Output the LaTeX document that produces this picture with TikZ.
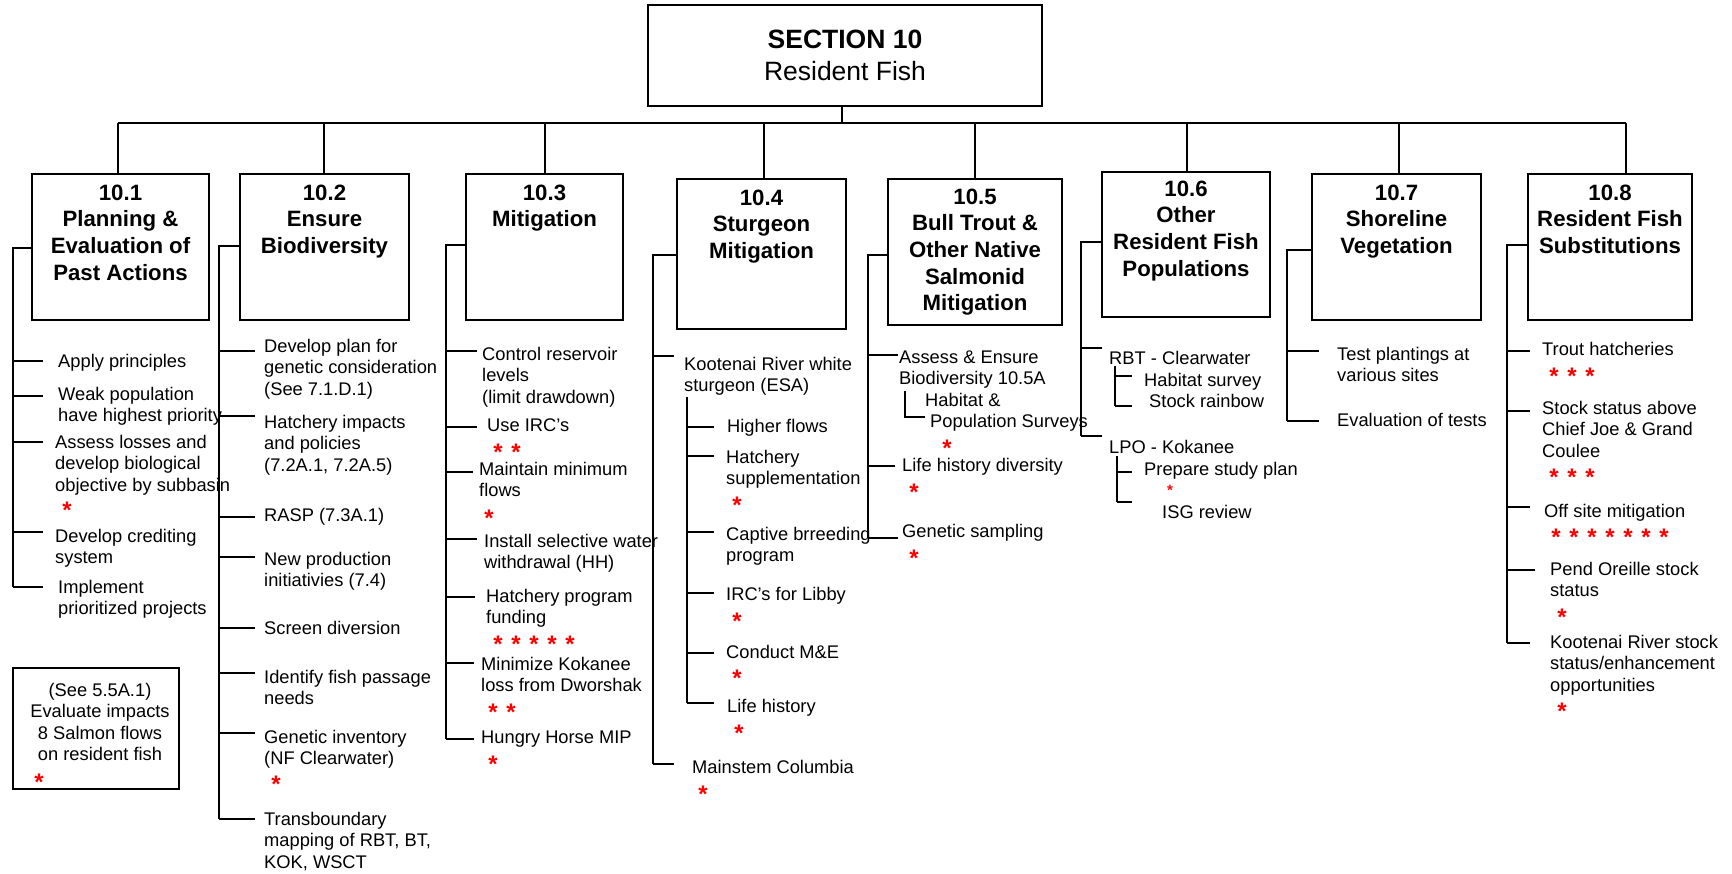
\documentclass[tikz,border=0pt]{standalone}
\usepackage{fontspec}
\setmainfont{Liberation Sans}
\tikzset{
  box/.style={draw=black, line width=1.3pt, inner sep=0pt, outer sep=0pt},
  ttl/.style={anchor=north, inner sep=0pt, align=center, font=\fontsize{22.2}{26.7}\selectfont\bfseries},
  item/.style={anchor=north west, inner sep=0pt, align=left, font=\fontsize{18.3}{21.5}\selectfont},
  redstar/.style={anchor=base, inner sep=0pt, text=red, font=\fontsize{24}{24}\selectfont\bfseries, yshift=-13.8pt},
  smallstar/.style={anchor=base, inner sep=0pt, text=red, font=\fontsize{15}{15}\selectfont\bfseries, yshift=-8.6pt},
  link/.style={draw=black, line width=1.3pt}
}
% item text block: name, left x, top y, text
\newcommand\itm[4]{\node[item] (#1) at (#2,#3) {\strut #4};}
% a row of red stars: name, first x, centre y, count
\newcommand\stars[4]{\foreach \k in {1,...,#4}{\node[redstar] (#1-\k) at ({#2+18*(\k-1)},#3) {*};}}
% short branch from a trunk: name, end point, trunk coordinate
\newcommand\tick[3]{\coordinate (#1) at (#2); \draw[link] (#3 |- #1) -- (#1);}
\begin{document}
\begin{tikzpicture}[x=1pt,y=-1pt]
\useasboundingbox (0,0) rectangle (1732,874);

% ---------- root ----------
\node[box, minimum width=394pt, minimum height=101pt] (top) at (845,55.5) {};
\node[anchor=north, inner sep=0pt, align=center, font=\fontsize{26.5}{32}\selectfont] (toptxt) at (845,26.1) {\strut\textbf{SECTION 10}\\Resident Fish};

% ---------- section boxes ----------
\node[box, minimum width=177pt, minimum height=146pt] (b1) at (120.5,247) {};
\node[ttl] (t1) at ([yshift=-7.3pt]b1.north) {\strut 10.1\\Planning \&\\Evaluation of\\Past Actions};
\node[box, minimum width=169pt, minimum height=146pt] (b2) at (324.5,247) {};
\node[ttl] (t2) at ([yshift=-7.3pt]b2.north) {\strut 10.2\\Ensure\\Biodiversity};
\node[box, minimum width=157pt, minimum height=146pt] (b3) at (544.5,247) {};
\node[ttl] (t3) at ([yshift=-7.3pt]b3.north) {\strut 10.3\\Mitigation};
\node[box, minimum width=169pt, minimum height=150pt] (b4) at (761.5,254) {};
\node[ttl] (t4) at ([yshift=-7.3pt]b4.north) {\strut 10.4\\Sturgeon\\Mitigation};
\node[box, minimum width=174pt, minimum height=146pt] (b5) at (975,252) {};
\node[ttl] (t5) at ([yshift=-6.3pt]b5.north) {\strut 10.5\\Bull Trout \&\\Other Native\\Salmonid\\Mitigation};
\node[box, minimum width=168pt, minimum height=145pt] (b6) at (1186,244.5) {};
\node[ttl] (t6) at ([yshift=-5.3pt]b6.north) {\strut 10.6\\Other\\Resident Fish\\Populations};
\node[box, minimum width=169pt, minimum height=146pt] (b7) at (1396.5,247) {};
\node[ttl] (t7) at ([yshift=-7.3pt]b7.north) {\strut 10.7\\Shoreline\\Vegetation};
\node[box, minimum width=164pt, minimum height=146pt] (b8) at (1610,247) {};
\node[ttl] (t8) at ([yshift=-7.3pt]b8.north) {\strut 10.8\\Resident Fish\\Substitutions};

% ---------- bus ----------
\coordinate (d0) at (842,123);
\coordinate (d1) at (118,123);
\coordinate (d2) at (324,123);
\coordinate (d3) at (545,123);
\coordinate (d4) at (764,123);
\coordinate (d5) at (975,123);
\coordinate (d6) at (1187,123);
\coordinate (d7) at (1399,123);
\coordinate (d8) at (1626,123);
\draw[link] (d0 |- top.south) -- (d0);
\draw[link] (d1) -- (d8);
\foreach \i in {1,...,8} {\draw[link] (d\i) -- (d\i |- b\i.north);}

% ---------- 10.1 ----------
\coordinate (k1) at (13,248);
\tick{e11}{43,361}{k1}
\tick{e12}{43,396}{k1}
\tick{e13}{43,442}{k1}
\tick{e14}{43,532}{k1}
\tick{e15}{43,587}{k1}
\draw[link] (b1.west |- k1) -- (k1) -- (k1 |- e15);
\itm{i11}{58}{352}{Apply principles}
\itm{i12}{58}{385}{Weak population\\have highest priority}
\itm{i13}{55}{433}{Assess losses and\\develop biological\\objective by subbasin}
\stars{s13}{67}{505}{1}
\itm{i14}{55}{527}{Develop crediting\\system}
\itm{i15}{58}{578}{Implement\\prioritized projects}

% side note
\node[box, minimum width=166pt, minimum height=121pt] (lb) at (96,728.5) {};
\node[item, anchor=north, align=center] (lt) at (100,681) {\strut (See 5.5A.1)\\Evaluate impacts\\8 Salmon flows\\on resident fish};
\stars{slb}{39}{777}{1}

% ---------- 10.2 ----------
\coordinate (k2) at (219,246);
\tick{e21}{255,351}{k2}
\tick{e22}{255,416}{k2}
\tick{e23}{255,517}{k2}
\tick{e24}{255,557}{k2}
\tick{e25}{255,628}{k2}
\tick{e26}{255,673}{k2}
\tick{e27}{255,733}{k2}
\tick{e28}{255,819}{k2}
\draw[link] (b2.west |- k2) -- (k2) -- (k2 |- e28);
\itm{i21}{264}{337}{Develop plan for\\genetic consideration\\(See 7.1.D.1)}
\itm{i22}{264}{413}{Hatchery impacts\\and policies\\(7.2A.1, 7.2A.5)}
\itm{i23}{264}{506}{RASP (7.3A.1)}
\itm{i24}{264}{550}{New production\\initiativies (7.4)}
\itm{i25}{264}{619}{Screen diversion}
\itm{i26}{264}{668}{Identify fish passage\\needs}
\itm{i27}{264}{728}{Genetic inventory\\(NF Clearwater)}
\stars{s27}{276}{779}{1}
\itm{i28}{264}{810}{Transboundary\\mapping of RBT, BT,\\KOK, WSCT}

% ---------- 10.3 ----------
\coordinate (k3) at (446,245);
\tick{e31}{477,351}{k3}
\tick{e32}{477,427}{k3}
\tick{e33}{473,472}{k3}
\tick{e34}{477,539}{k3}
\tick{e35}{475,597}{k3}
\tick{e36}{474,663}{k3}
\tick{e37}{474,739}{k3}
\draw[link] (b3.west |- k3) -- (k3) -- (k3 |- e37);
\itm{i31}{482}{345}{Control reservoir\\levels\\(limit drawdown)}
\itm{i32}{487}{416}{Use IRC's}
\stars{s32}{498}{447}{2}
\itm{i33}{479}{460}{Maintain minimum\\flows}
\stars{s33}{489}{513}{1}
\itm{i34}{484}{532}{Install selective water\\withdrawal (HH)}
\itm{i35}{486}{587}{Hatchery program\\funding}
\stars{s35}{498}{639}{5}
\itm{i36}{481}{655}{Minimize Kokanee\\loss from Dworshak}
\stars{s36}{493}{707}{2}
\itm{i37}{481}{728}{Hungry Horse MIP}
\stars{s37}{493}{759}{1}

% ---------- 10.4 ----------
\coordinate (k4) at (653,255);
\tick{e41}{674,356}{k4}
\tick{e42}{674,764}{k4}
\draw[link] (b4.west |- k4) -- (k4) -- (k4 |- e42);
\itm{i41}{684}{355}{Kootenai River white\\sturgeon (ESA)}
\coordinate (u4) at (687,397);
\tick{f41}{714,427}{u4}
\tick{f42}{714,456}{u4}
\tick{f43}{714,532}{u4}
\tick{f44}{714,593}{u4}
\tick{f45}{714,653}{u4}
\tick{f46}{714,703}{u4}
\draw[link] (u4) -- (u4 |- f46);
\itm{i42}{727}{417}{Higher flows}
\itm{i43}{726}{448}{Hatchery\\supplementation}
\stars{s43}{737}{500}{1}
\itm{i44}{726}{525}{Captive brreeding\\program}
\itm{i45}{726}{585}{IRC's for Libby}
\stars{s45}{737}{616}{1}
\itm{i46}{726}{643}{Conduct M\&E}
\stars{s46}{737}{673}{1}
\itm{i47}{727}{697}{Life history}
\stars{s47}{739}{728}{1}
\itm{i48}{692}{758}{Mainstem Columbia}
\stars{s48}{703}{789}{1}

% ---------- 10.5 ----------
\coordinate (k5) at (868,255);
\tick{e51}{898,355}{k5}
\tick{e52}{895,466}{k5}
\tick{e53}{898,538}{k5}
\draw[link] (b5.west |- k5) -- (k5) -- (k5 |- e53);
\itm{i51}{899}{348}{Assess \& Ensure\\Biodiversity 10.5A}
\coordinate (u5) at (905,391);
\coordinate (h5) at (925,417);
\draw[link] (u5) |- (h5);
\itm{i52}{925}{391}{Habitat \&\\\hspace*{5pt}Population Surveys}
\stars{s52}{947}{443}{1}
\itm{i53}{902}{456}{Life history diversity}
\stars{s53}{914}{487}{1}
\itm{i54}{902}{522}{Genetic sampling}
\stars{s54}{914}{553}{1}

% ---------- 10.6 ----------
\coordinate (k6) at (1081,242);
\tick{e61}{1102,348}{k6}
\tick{e62}{1102,436}{k6}
\draw[link] (b6.west |- k6) -- (k6) -- (k6 |- e62);
\itm{i61}{1109}{349}{RBT - Clearwater}
\coordinate (u6) at (1115,366);
\tick{g61}{1132,376}{u6}
\tick{g62}{1132,406}{u6}
\draw[link] (u6) -- (u6 |- g62);
\itm{i62}{1144}{371}{Habitat survey}
\itm{i63}{1149}{392}{Stock rainbow}
\itm{i64}{1109}{438}{LPO - Kokanee}
\coordinate (v6) at (1117,456);
\tick{g63}{1132,472}{v6}
\tick{g64}{1132,502}{v6}
\draw[link] (v6) -- (v6 |- g64);
\itm{i65}{1144}{460}{Prepare study plan}
\node[smallstar] (s65) at (1170,487) {*};
\itm{i66}{1162}{503}{ISG review}

% ---------- 10.7 ----------
\coordinate (k7) at (1287,250);
\tick{e71}{1319,351}{k7}
\tick{e72}{1319,421}{k7}
\draw[link] (b7.west |- k7) -- (k7) -- (k7 |- e72);
\itm{i71}{1337}{345}{Test plantings at\\various sites}
\itm{i72}{1337}{411}{Evaluation of tests}

% ---------- 10.8 ----------
\coordinate (k8) at (1507,245);
\tick{e81}{1530,351}{k8}
\tick{e82}{1530,411}{k8}
\tick{e83}{1530,507}{k8}
\tick{e84}{1535,570}{k8}
\tick{e85}{1530,643}{k8}
\draw[link] (b8.west |- k8) -- (k8) -- (k8 |- e85);
\itm{i81}{1542}{340}{Trout hatcheries}
\stars{s81}{1554}{371}{3}
\itm{i82}{1542}{399}{Stock status above\\Chief Joe \& Grand\\Coulee}
\stars{s82}{1554}{472}{3}
\itm{i83}{1544}{502}{Off site mitigation}
\stars{s83}{1556}{532}{7}
\itm{i84}{1550}{560}{Pend Oreille stock\\status}
\stars{s84}{1562}{612}{1}
\itm{i85}{1550}{633}{Kootenai River stock\\status/enhancement\\opportunities}
\stars{s85}{1562}{706}{1}
\end{tikzpicture}
\end{document}
